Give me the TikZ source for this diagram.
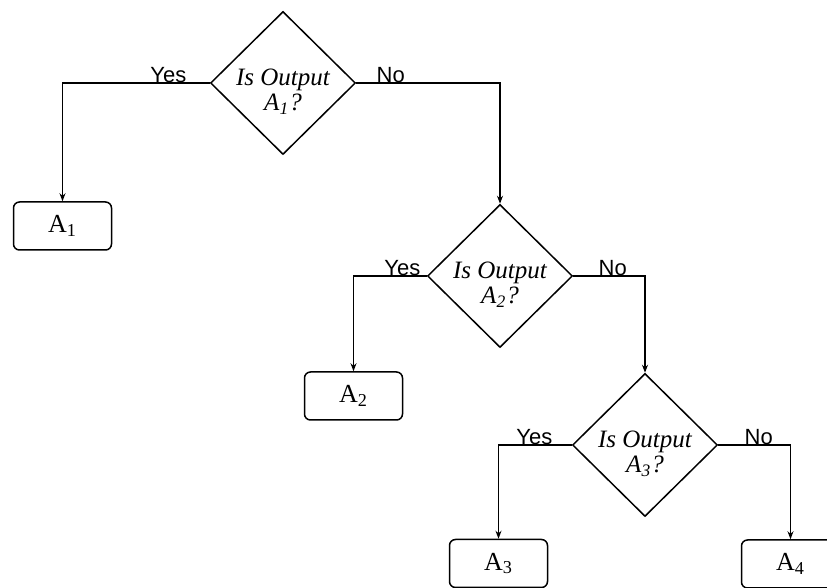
\documentclass[tikz,border=0pt]{standalone}
\usepackage{fontspec}
\setmainfont{Liberation Serif}
\setsansfont{Liberation Sans}
\usetikzlibrary{arrows.meta,shapes.geometric,positioning}

\tikzset{
  decision/.style={draw, diamond, inner sep=0pt, minimum width=72.5pt, minimum height=71.5pt, line width=0.75pt},
  qtext/.style={align=center, inner sep=0pt, font=\itshape\fontsize{12.5}{12.5}\selectfont},
  outbox/.style={draw, rounded corners=3pt, minimum width=49pt, minimum height=24pt, inner sep=0pt, line width=0.75pt, font=\fontsize{13}{15}\selectfont},
  flow/.style={line width=0.75pt, -{Stealth[length=4pt,width=3pt]}},
  yeslbl/.style={anchor=base east, inner sep=0pt, font=\sffamily\fontsize{11}{13}\selectfont},
  nolbl/.style={anchor=base west, inner sep=0pt, font=\sffamily\fontsize{11}{13}\selectfont}
}

\begin{document}
\begin{tikzpicture}[x=0.5pt, y=-0.5pt]
\useasboundingbox (0,0) rectangle (827,588);
\clip (0,0) rectangle (827,588);
% Decisions
\node[decision] (d1) at (283,83) {};
\node[decision] (d2) at (500,276) {};
\node[decision] (d3) at (645,445) {};
\node[qtext] (q1) at ([yshift=-4.5pt]d1.center) {Is Output\\A\textsubscript{1}?};
\node[qtext] (q2) at ([yshift=-4.5pt]d2.center) {Is Output\\A\textsubscript{2}?};
\node[qtext] (q3) at ([yshift=-4.5pt]d3.center) {Is Output\\A\textsubscript{3}?};
% Outputs
\node[outbox] (a1) at (62.5,226) {A\textsubscript{1}};
\node[outbox] (a2) at (353.5,396) {A\textsubscript{2}};
\node[outbox] (a3) at (498.5,563.5) {A\textsubscript{3}};
\node[outbox] (a4) at (790.5,564) {A\textsubscript{4}};
% Connectors
\draw[flow] (d1.west) -| (a1.north);
\draw[flow] (d1.east) -| (d2.north);
\draw[flow] (d2.west) -| (a2.north);
\draw[flow] (d2.east) -| (d3.north);
\draw[flow] (d3.west) -| (a3.north);
\draw[flow] (d3.east) -| (a4.north);
% Yes / No labels
\node[yeslbl, xshift=-11.5pt] (y1) at (d1.west) {Yes};
\node[nolbl, xshift=10pt] (n1) at (d1.east) {No};
\node[yeslbl, xshift=-3pt] (y2) at (d2.west) {Yes};
\node[nolbl, xshift=12.5pt] (n2) at (d2.east) {No};
\node[yeslbl, xshift=-9.5pt] (y3) at (d3.west) {Yes};
\node[nolbl, xshift=13pt] (n3) at (d3.east) {No};
\end{tikzpicture}
\end{document}
